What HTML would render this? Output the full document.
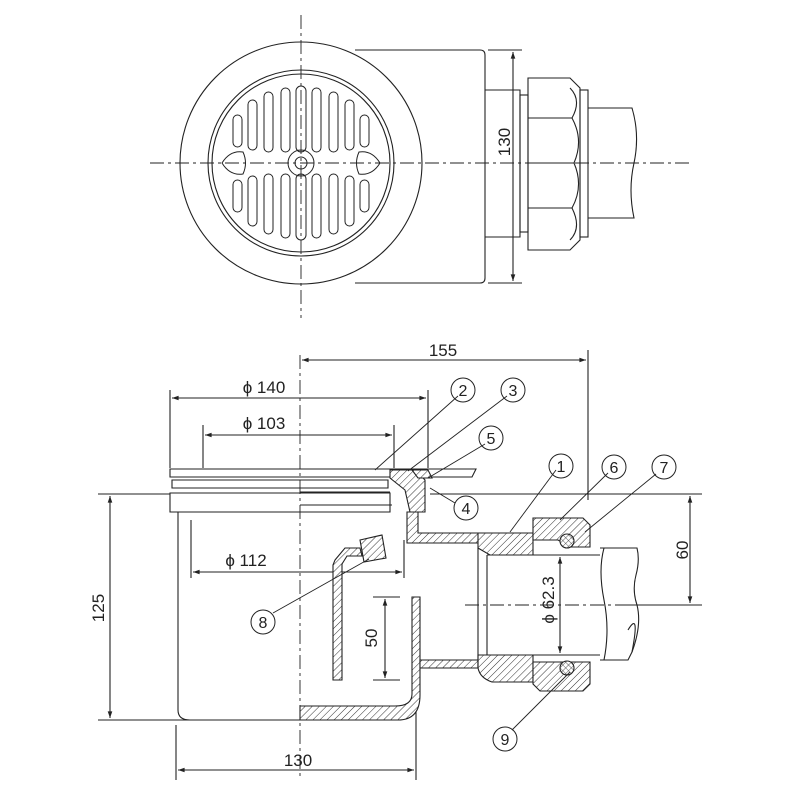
<!DOCTYPE html>
<html><head><meta charset="utf-8"><style>
html,body{margin:0;padding:0;background:#fff;}
svg{display:block;}
text{font-family:"Liberation Sans",sans-serif;fill:#222;}
</style></head><body>
<svg width="800" height="800" viewBox="0 0 800 800" xmlns="http://www.w3.org/2000/svg">
<defs>
<pattern id="h" patternUnits="userSpaceOnUse" width="5" height="5" patternTransform="rotate(45)">
<rect width="5" height="5" fill="#fff"/><line x1="0" y1="0" x2="0" y2="5" stroke="#333" stroke-width="1"/></pattern>
<pattern id="x" patternUnits="userSpaceOnUse" width="4" height="4" patternTransform="rotate(45)">
<rect width="4" height="4" fill="#fff"/><path d="M0,0 V4 M0,0 H4" stroke="#333" stroke-width="0.8"/></pattern>
<marker id="a" viewBox="0 0 10 10" refX="10" refY="5" markerWidth="9" markerHeight="6" orient="auto-start-reverse"><path d="M0,1.5 L10,5 L0,8.5z" fill="#222"/></marker>
</defs>
<g fill="none" stroke="#222" stroke-width="1.1">
<path d="M355,50 H480 Q485,50 485,55 V278 Q485,283 480,283 H355"/>
<circle cx="301" cy="163" r="121" fill="#fff"/>
<circle cx="301" cy="163" r="93"/>
<circle cx="301" cy="163" r="89"/>
<g stroke-width="1">
<rect x="296" y="86" width="10" height="66" rx="5"/><rect x="296" y="174" width="10" height="66" rx="5"/>
<rect x="281" y="88" width="9" height="64" rx="4.5"/><rect x="312" y="88" width="9" height="64" rx="4.5"/>
<rect x="281" y="174" width="9" height="64" rx="4.5"/><rect x="312" y="174" width="9" height="64" rx="4.5"/>
<rect x="264" y="92" width="9" height="60" rx="4.5"/><rect x="329" y="92" width="9" height="60" rx="4.5"/>
<rect x="264" y="174" width="9" height="60" rx="4.5"/><rect x="329" y="174" width="9" height="60" rx="4.5"/>
<rect x="248" y="100" width="9" height="50" rx="4.5"/><rect x="345" y="100" width="9" height="50" rx="4.5"/>
<rect x="248" y="176" width="9" height="50" rx="4.5"/><rect x="345" y="176" width="9" height="50" rx="4.5"/>
<rect x="233" y="115" width="9" height="32" rx="4.5"/><rect x="360" y="115" width="9" height="32" rx="4.5"/>
<rect x="233" y="180" width="9" height="32" rx="4.5"/><rect x="360" y="180" width="9" height="32" rx="4.5"/>
<path d="M222,163 Q230,150 243,152 Q248,163 243,174 Q230,176 222,163z"/>
<path d="M380,163 Q372,150 359,152 Q354,163 359,174 Q372,176 380,163z"/>
<circle cx="301" cy="163" r="13"/><circle cx="301" cy="163" r="6"/>
</g>
<path d="M485,90 H520 V237 H485"/>
<rect x="520" y="95" width="8" height="137"/>
<path d="M528,78 H570 L580,88 V240 L570,250 H528z"/>
<path d="M528,118 H572 M528,163 H574 M528,208 H572"/>
<path d="M570,88 Q582,100 572,118 Q584,140 574,163 Q584,186 572,208 Q582,228 570,240"/>
<rect x="580" y="90" width="8" height="147"/>
<path d="M588,108 H632 Q640,135 634,163 Q628,190 634,218 H588"/>
<path d="M488,50 H522 M488,283 H522"/>
<line x1="513" y1="52" x2="513" y2="281" marker-start="url(#a)" marker-end="url(#a)"/>
<g stroke-dasharray="14,4,3,4" stroke-width="0.9">
<line x1="150" y1="163" x2="690" y2="163"/><line x1="301" y1="15" x2="301" y2="318"/></g>

<line x1="300" y1="355" x2="300" y2="780" stroke-dasharray="14,4,3,4" stroke-width="0.9"/>
<line x1="588" y1="350" x2="588" y2="500"/>
<line x1="302" y1="360" x2="586" y2="360" marker-start="url(#a)" marker-end="url(#a)"/>
<line x1="170" y1="390" x2="170" y2="468"/><line x1="428" y1="390" x2="428" y2="468"/>
<line x1="172" y1="398" x2="426" y2="398" marker-start="url(#a)" marker-end="url(#a)"/>
<line x1="203" y1="425" x2="203" y2="468"/><line x1="394" y1="425" x2="394" y2="468"/>
<line x1="205" y1="435" x2="392" y2="435" marker-start="url(#a)" marker-end="url(#a)"/>
<line x1="191" y1="520" x2="191" y2="578"/><line x1="404" y1="540" x2="404" y2="578"/>
<line x1="193" y1="572" x2="402" y2="572" marker-start="url(#a)" marker-end="url(#a)"/>
<line x1="98" y1="494" x2="170" y2="494"/><line x1="98" y1="720" x2="190" y2="720"/>
<line x1="110" y1="496" x2="110" y2="718" marker-start="url(#a)" marker-end="url(#a)"/>
<line x1="176" y1="725" x2="176" y2="780"/><line x1="416" y1="700" x2="416" y2="780"/>
<line x1="178" y1="770" x2="414" y2="770" marker-start="url(#a)" marker-end="url(#a)"/>
<line x1="430" y1="494" x2="702" y2="494"/><line x1="620" y1="605" x2="702" y2="605"/>
<line x1="690" y1="496" x2="690" y2="603" marker-start="url(#a)" marker-end="url(#a)"/>
<line x1="373" y1="597" x2="400" y2="597"/><line x1="373" y1="680" x2="400" y2="680"/>
<line x1="385" y1="599" x2="385" y2="678" marker-start="url(#a)" marker-end="url(#a)"/>
<line x1="560" y1="557" x2="560" y2="653" marker-start="url(#a)" marker-end="url(#a)"/>
<line x1="465" y1="605" x2="620" y2="605" stroke-dasharray="14,4,3,4" stroke-width="0.9"/>
<path d="M170,469 H476 L472,477 H170z"/>
<path d="M172,480 H388 V488 H172z"/>
<path d="M170,493 H390 V512 H170z"/>
<path d="M178,512 V710 Q178,720 190,720 H300"/>
<path d="M300,492 H390 M300,505 H392"/>
<path d="M390,470 L415,470 L425,480 L425,512 L410,512 L405,490 L390,478z" fill="url(#h)"/>
<path d="M412,470 H428 L432,478 L418,478z" fill="url(#h)"/>
<path d="M407,512 H418 V533 H478 L482,538 V543 H407z" fill="url(#h)"/>
<path d="M478,533 H533 V555 H490 L478,548z" fill="url(#h)"/>
<path d="M533,518 H583 L590,525 V547 H570 L558,540 H533z" fill="url(#h)"/>
<circle cx="567" cy="541" r="7" fill="url(#x)"/>
<path d="M335,560 L345,548 H360 L362,556 H347 L342,564 V680 H333 V565z" fill="url(#h)"/>
<path d="M360,540 L382,535 L386,558 L364,562z" fill="url(#h)"/>
<path d="M412,597 H420 V695 Q420,720 398,720 H300 V706 H395 Q412,706 412,694 V597z" fill="url(#h)"/>
<path d="M420,660 H478 V668 H420z" fill="url(#h)"/>
<path d="M478,655 H533 V682 H492 Q480,678 478,668z" fill="url(#h)"/>
<path d="M533,662 H590 V684 L583,691 H540 L533,684z" fill="url(#h)"/>
<circle cx="567" cy="668" r="7" fill="url(#x)"/>
<path d="M478,548 V668 M487,555 V655"/>
<path d="M487,555 H600 M487,655 H600"/>
<path d="M600,548 H637 Q640,560 636,575 Q632,590 637,605 Q642,625 632,652 L628,660 H600"/>
<path d="M604,548 Q598,570 604,600 Q610,630 604,660"/>
<path d="M628,630 Q640,610 632,652"/>
<g stroke-width="0.9">
<line x1="375" y1="470" x2="458" y2="396"/>
<line x1="408" y1="471" x2="507" y2="396"/>
<line x1="428" y1="478" x2="485" y2="444"/>
<line x1="430" y1="488" x2="455" y2="503"/>
<line x1="510" y1="532" x2="556" y2="470"/>
<line x1="560" y1="520" x2="608" y2="473"/>
<line x1="585" y1="532" x2="656" y2="474"/>
<line x1="369" y1="559" x2="273" y2="613"/>
<line x1="570" y1="672" x2="512" y2="730"/>
</g>
<g stroke-width="1">
<circle cx="463" cy="390" r="12"/><circle cx="513" cy="390" r="12"/><circle cx="491" cy="438" r="12"/>
<circle cx="466" cy="508" r="12"/><circle cx="561" cy="466" r="12"/><circle cx="614" cy="467" r="12"/>
<circle cx="664" cy="467" r="12"/><circle cx="263" cy="622" r="12"/><circle cx="505" cy="739" r="12"/>
</g>
</g>
<g font-size="17" text-anchor="middle">
<text x="443" y="356">155</text>
<text x="264" y="393">ϕ 140</text>
<text x="264" y="429">ϕ 103</text>
<text x="246" y="566">ϕ 112</text>
<text x="298" y="766">130</text>
<text transform="translate(104,608) rotate(-90)">125</text>
<text transform="translate(688,550) rotate(-90)">60</text>
<text transform="translate(377,638) rotate(-90)">50</text>
<text transform="translate(554,600) rotate(-90)">ϕ 62.3</text>
<text transform="translate(510,142) rotate(-90)">130</text>
</g>
<g font-size="16" text-anchor="middle">
<text x="463" y="396">2</text><text x="513" y="396">3</text><text x="491" y="444">5</text>
<text x="466" y="514">4</text><text x="561" y="472">1</text><text x="614" y="473">6</text>
<text x="664" y="473">7</text><text x="263" y="628">8</text><text x="505" y="745">9</text>
</g>
</svg>
</body></html>
